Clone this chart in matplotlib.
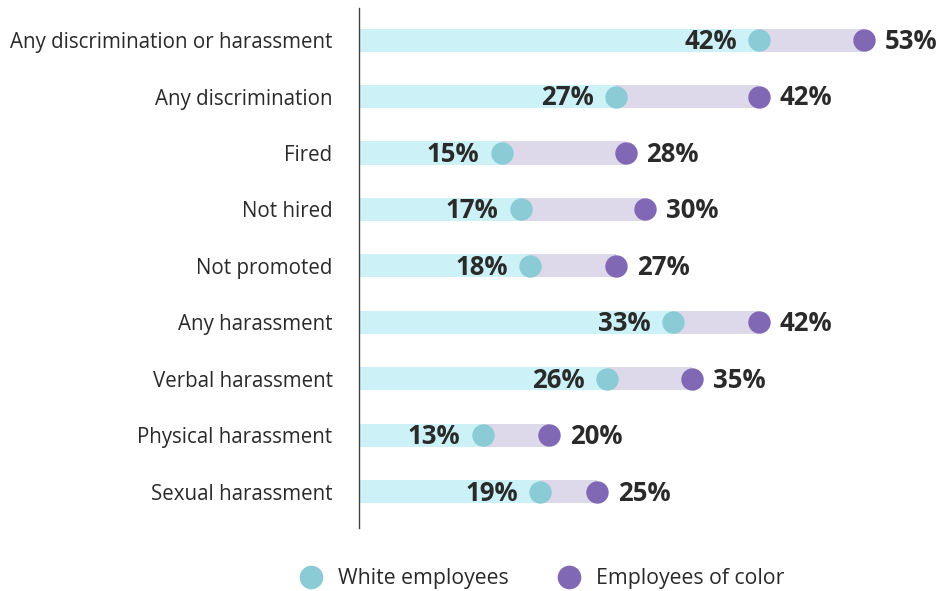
import matplotlib
matplotlib.use('Agg')
import matplotlib.pyplot as plt
from matplotlib.lines import Line2D

plt.rcParams['font.family'] = ['Open Sans', 'DejaVu Sans']

CATEGORIES = [
    "Any discrimination or harassment",
    "Any discrimination",
    "Fired",
    "Not hired",
    "Not promoted",
    "Any harassment",
    "Verbal harassment",
    "Physical harassment",
    "Sexual harassment",
]
WHITE = [42, 27, 15, 17, 18, 33, 26, 13, 19]
COLOR = [53, 42, 28, 30, 27, 42, 35, 20, 25]

BAR_CYAN = "#ccf2f7"
BAR_LAV = "#ddd9ea"
DOT_TEAL = "#8acbd5"
DOT_PURPLE = "#8068b4"
TEXT = "#2a2a2a"


def main():
    fig = plt.figure(figsize=(9.42, 5.91), dpi=100)
    ax = fig.add_axes([0.381, 0.107, 0.619, 0.8795])

    ys = list(range(len(CATEGORIES)))
    ax.barh(ys, WHITE, height=0.41, color=BAR_CYAN, zorder=1)
    ax.barh(ys, [c - w for w, c in zip(WHITE, COLOR)], left=WHITE,
            height=0.41, color=BAR_LAV, zorder=1)
    ax.scatter(WHITE, ys, s=260, color=DOT_TEAL, zorder=3, linewidths=0)
    ax.scatter(COLOR, ys, s=260, color=DOT_PURPLE, zorder=3, linewidths=0)

    for y, w, c in zip(ys, WHITE, COLOR):
        ax.annotate(f"{w}%", (w, y), xytext=(-16, -1), textcoords='offset points',
                    ha='right', va='center', fontsize=18.5, fontweight='bold', color=TEXT)
        ax.annotate(f"{c}%", (c, y), xytext=(15, -1), textcoords='offset points',
                    ha='left', va='center', fontsize=18.5, fontweight='bold', color=TEXT)

    ax.set_xlim(0, 61.2)
    ax.set_ylim(len(CATEGORIES) - 1 + 0.64, -0.57)
    ax.set_yticks(ys)
    ax.set_yticklabels(CATEGORIES, fontsize=14.8, color=TEXT)
    ax.tick_params(axis='y', length=0, pad=19)
    ax.set_xticks([])
    for side in ['top', 'right', 'bottom']:
        ax.spines[side].set_visible(False)
    ax.spines['left'].set_color('#444444')
    ax.spines['left'].set_linewidth(1)

    handles = [
        Line2D([], [], marker='o', linestyle='', markersize=17,
               markerfacecolor=DOT_TEAL, markeredgewidth=0, label="White employees"),
        Line2D([], [], marker='o', linestyle='', markersize=17,
               markerfacecolor=DOT_PURPLE, markeredgewidth=0, label="Employees of color"),
    ]
    fig.legend(handles=handles, loc='center', bbox_to_anchor=(0.570, 0.021),
               ncol=2, frameon=False, fontsize=15.3, labelcolor=TEXT,
               handletextpad=0.3, columnspacing=1.8)

    fig.savefig("out.png", dpi=100)
    plt.close(fig)


if __name__ == "__main__":
    main()
